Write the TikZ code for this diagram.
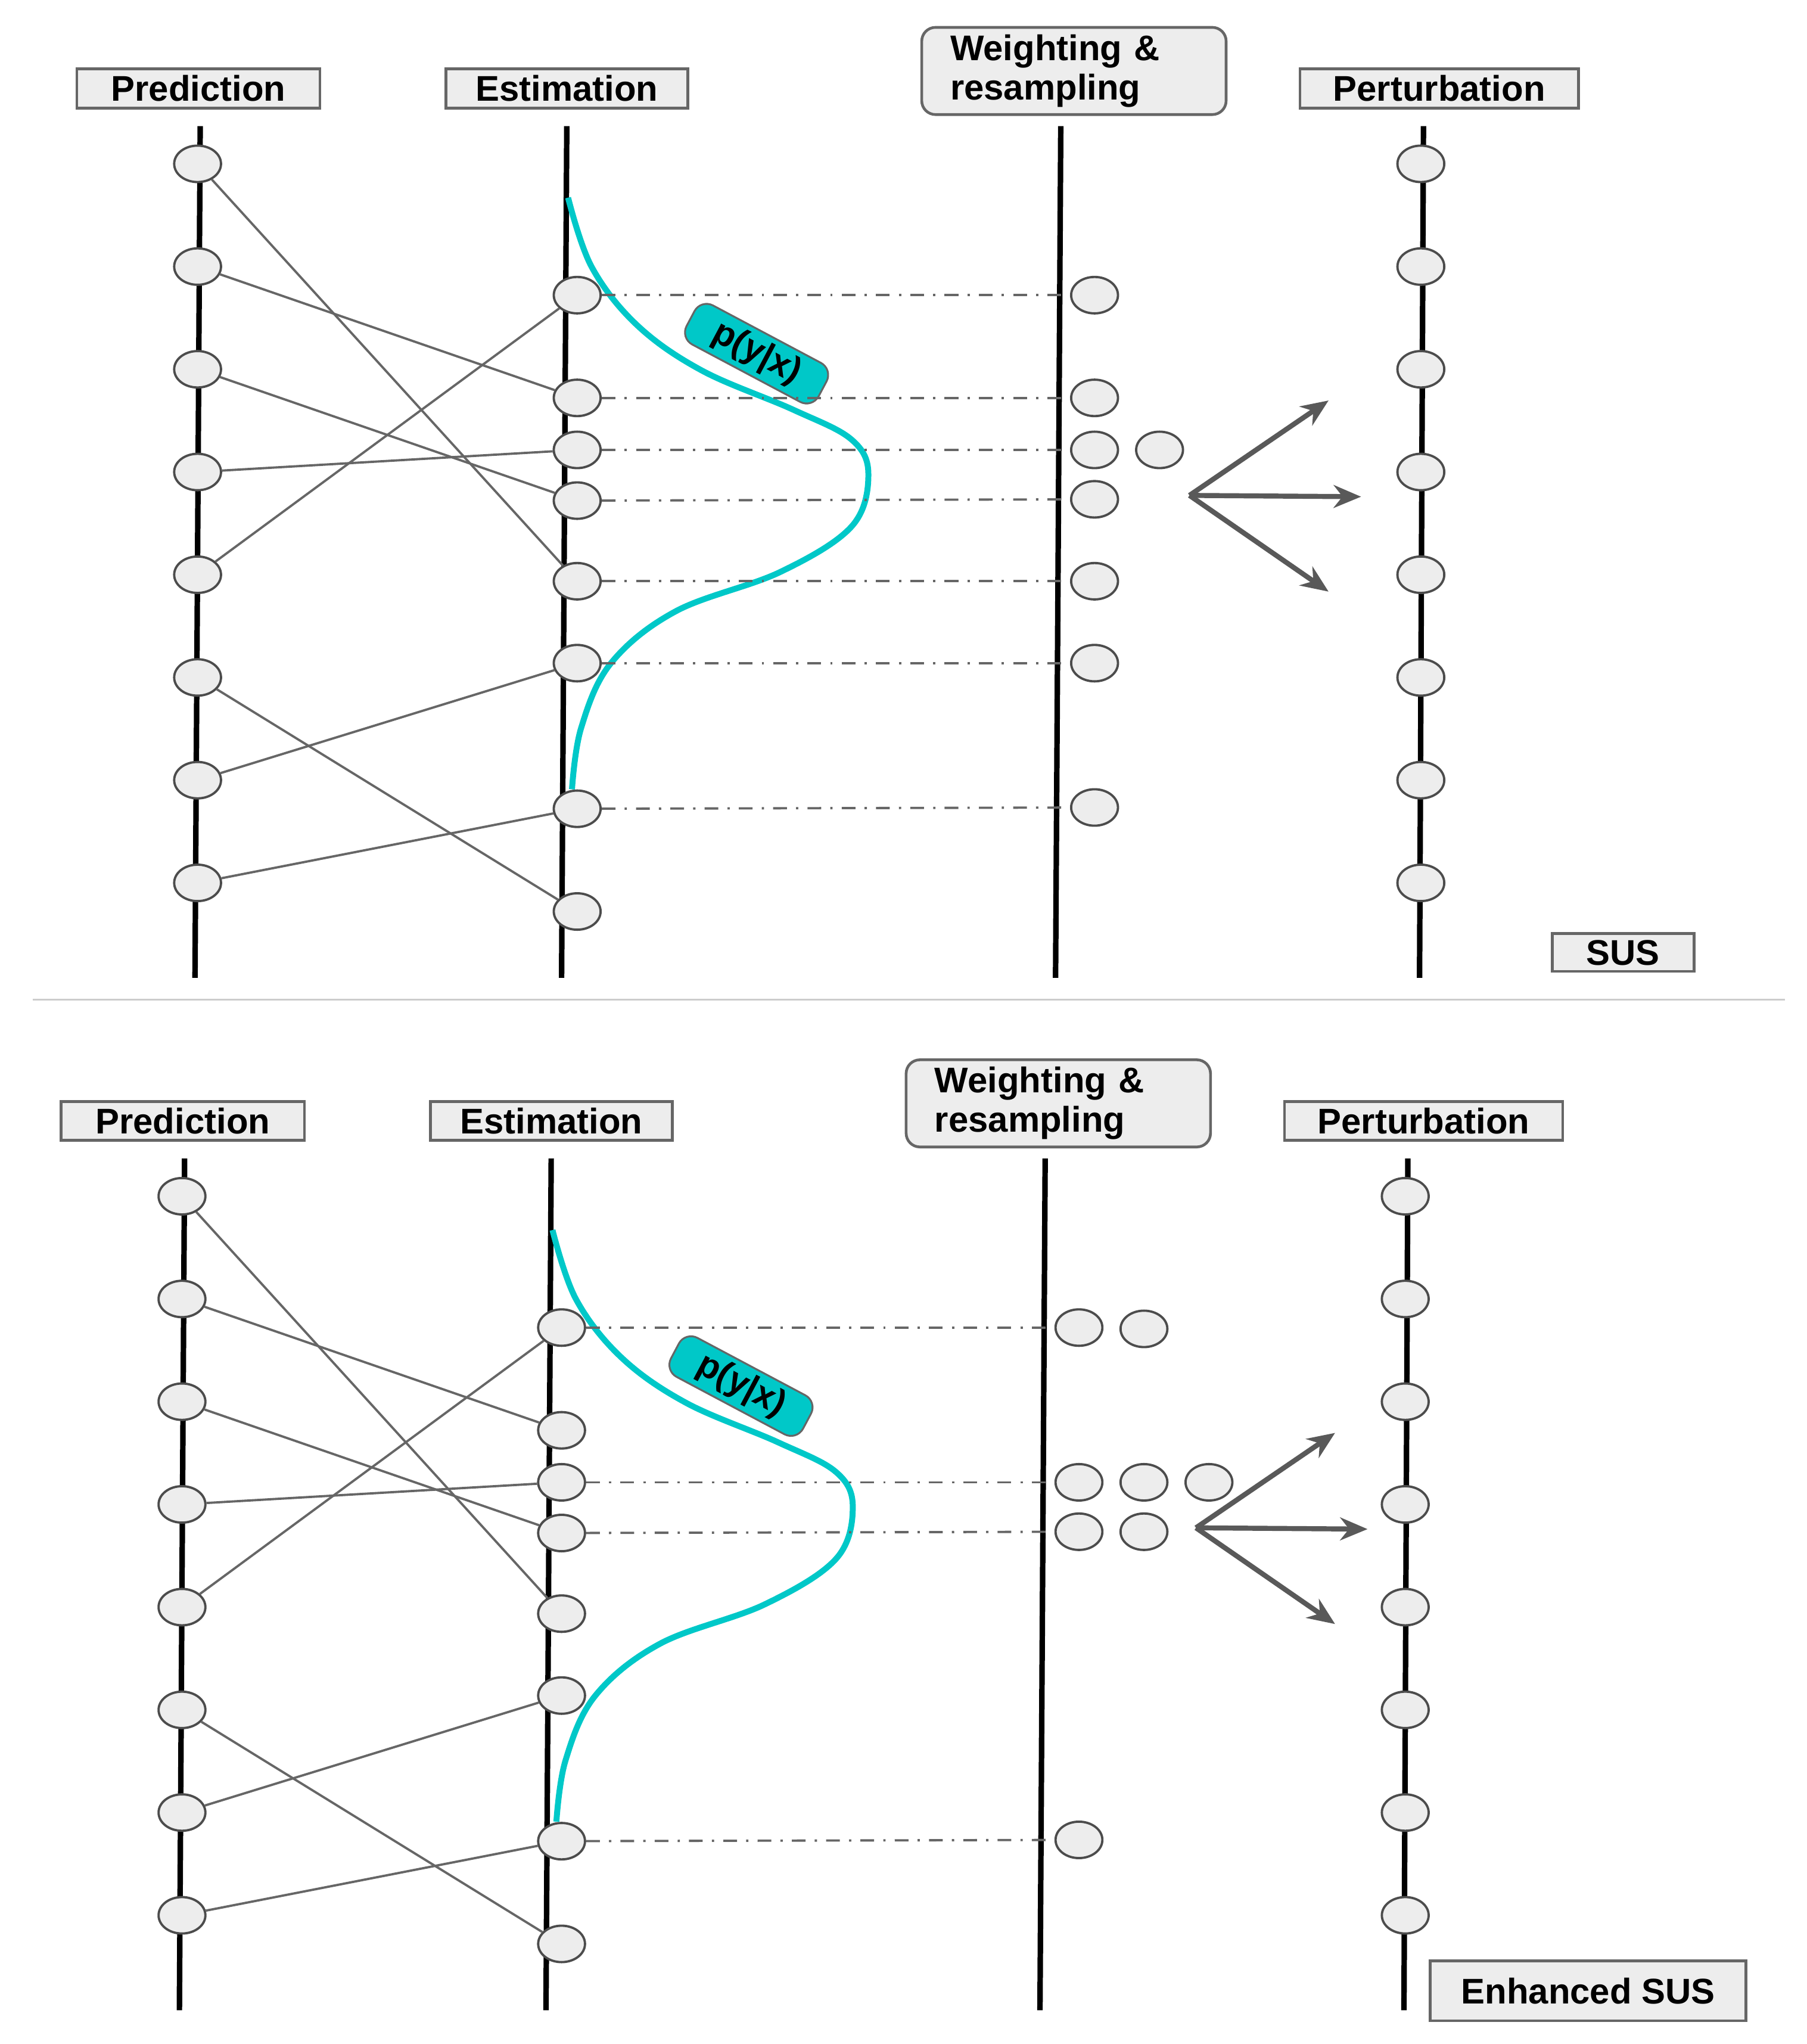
\documentclass[tikz,border=0pt]{standalone}
\usepackage{fontspec}
\setmainfont{Liberation Sans}
\usetikzlibrary{shapes.geometric}
\usetikzlibrary{arrows.meta}
\definecolor{turq}{RGB}{0,200,200}
\tikzstyle{particle} = [ellipse, draw=black!70, fill=black!7, line width=0.5pt,
    minimum width=0.36cm, minimum height=0.28cm, inner sep=0pt]
\tikzstyle{title} = [rectangle, draw=black!60, fill=black!7, line width=0.6pt,
    font=\fontsize{7.8}{8.6}\selectfont\bfseries, inner sep=0pt, anchor=north west]
\tikzstyle{axis} = [draw, line width=1.2pt]
\tikzstyle{link} = [draw=black!60, line width=0.5pt]
\tikzstyle{guide} = [draw=black!60, line width=0.5pt, dash dot]
\tikzstyle{spread} = [draw=black!65, line width=1.1pt, -{Stealth[length=6pt,width=5pt]}]
\tikzstyle{likely} = [draw=turq, line width=1.3pt]

\begin{document}
\begin{tikzpicture}[x=0.01cm, y=-0.01cm]
  \useasboundingbox (0,0) rectangle (1390,1572);
  \draw [black!20, line width=0.4pt] (25,769) -- (1373,769);

  \foreach \pre/\dx/\dy/\ax in {t/0/0/0, b/-12/794/17} {
    \begin{scope}[shift={(\dx,\dy)}]
      % column titles
      \node [title, minimum width=1.87cm, minimum height=0.3cm] (\pre pt) at (58,52) {Prediction};
      \node [title, minimum width=1.86cm, minimum height=0.3cm] (\pre et) at (342,52) {Estimation};
      \node [title, rounded corners=3pt, minimum width=2.34cm, minimum height=0.67cm,
             align=left, text width=1.9cm] (\pre wt) at (708,20) {Weighting \&\\resampling};
      \node [title, minimum width=2.14cm, minimum height=0.3cm] (\pre rt) at (999,52) {Perturbation};
      % axes
      \path [axis] (154,97) -- (150,752);
      \path [axis] (436,97) -- (432,752);
      \path [axis] (816,97) -- (812,752);
      \path [axis] (1095,97) -- (1092,752);
      % particles
      \foreach \i/\y in {1/126,2/205,3/284,4/363,5/442,6/521,7/600,8/679} {
        \node [particle] (\pre p\i) at (152,\y) {};
        \node [particle] (\pre r\i) at (1093,\y) {};
      }
      \foreach \i/\y in {1/227,2/306,3/346,4/385,5/447,6/510,7/622,8/701}
        \node [particle] (\pre e\i) at (444,\y) {};
      \foreach \a/\b in {1/5,2/2,3/4,4/3,5/1,6/8,7/6,8/7}
        \path [link] (\pre p\a) -- (\pre e\b);
      % likelihood
      \path [likely] plot [smooth, tension=0.6] coordinates {(437,152) (455,205) (490,250)
        (540,285) (610,315) (655,338) (668,365) (655,405) (600,440) (520,470)
        (470,510) (447,560) (440,607)};
      \node [rectangle, rounded corners=3pt, fill=turq, draw=black!60, rotate=-28,
             font=\fontsize{7.8}{8.6}\selectfont\bfseries, inner sep=0pt, minimum width=1.15cm,
             minimum height=0.34cm] (\pre lk) at (582,272) {p(y|x)};
      % spread
      \coordinate (\pre s) at (915+\ax,381);
      \coordinate (\pre s1) at (1022+\ax,308);
      \coordinate (\pre s2) at (1047+\ax,382);
      \coordinate (\pre s3) at (1022+\ax,455);
      \foreach \k in {1,2,3}
        \path [spread] (\pre s) -- (\pre s\k);
    \end{scope}
  }

  % SUS weighting
  \foreach \i/\y in {1/227,2/306,3/346,4/384,5/447,6/510,7/621} {
    \node [particle] (tw\i) at (842,\y) {};
    \path [guide] (te\i) -- (tw\i);
  }
  \node [particle] (tw3b) at (892,346) {};
  \node [title, minimum width=1.09cm, minimum height=0.29cm] (tsus) at (1193,717) {SUS};

  % Enhanced SUS weighting
  \foreach \i/\y in {1/1021,3/1140,4/1178,7/1415} {
    \node [particle] (bw\i) at (830,\y) {};
    \path [guide] (be\i) -- (bw\i);
  }
  \node [particle] (bw1b) at (880,1022) {};
  \node [particle] (bw3b) at (880,1140) {};
  \node [particle] (bw3c) at (930,1140) {};
  \node [particle] (bw4b) at (880,1178) {};
  \node [title, minimum width=2.43cm, minimum height=0.46cm] (bsus) at (1099,1507) {Enhanced SUS};
\end{tikzpicture}
\end{document}
